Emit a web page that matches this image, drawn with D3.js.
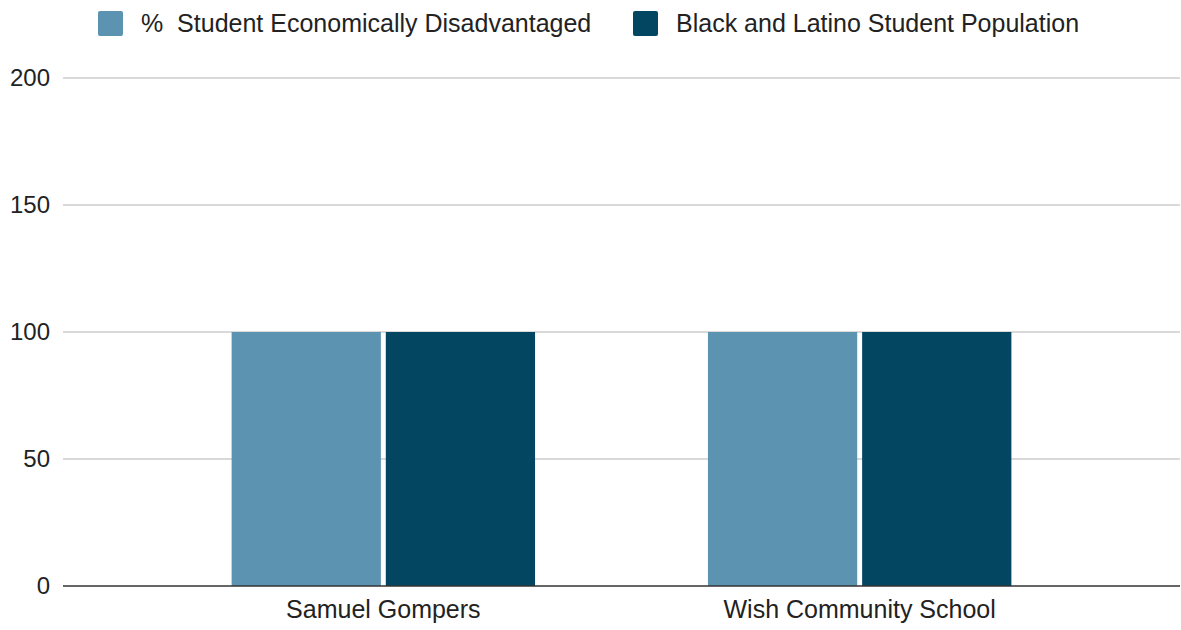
<!DOCTYPE html>
<html lang="en">
<head><title>Student demographics</title>
<style>
  body { margin: 0; background: #fff; }
  text { font-family: "Liberation Sans", Arial, sans-serif; fill: #222; }
</style>
</head>
<body>
<svg width="1181" height="630"></svg>

<script src="https://d3js.org/d3.v7.min.js"></script>
<script>
// chart values
var schools = ["Samuel Gompers", "Wish Community School"];
var seriesNames = ["%  Student Economically Disadvantaged", "Black and Latino Student Population"];
var econDisadvantaged = [100, 100];
var blackLatino = [100, 100];
var yTicks = [0, 50, 100, 150, 200];
var colors = ["#5b93b0", "#034662"];

var rows = schools.map(function(s, i) {
    return { school: s, values: [econDisadvantaged[i], blackLatino[i]] };
});

var svg = d3.select("svg"),
    plotLeft = 63, plotRight = 1180, plotTop = 78, plotBottom = 586;

var x = d3.scaleBand().domain(schools).range([plotLeft, plotRight])
    .paddingInner(0.363).paddingOuter(0.354);
var xSub = d3.scaleBand().domain([0, 1]).range([0, x.bandwidth()])
    .paddingInner(0.032);
var y = d3.scaleLinear().domain([0, 200]).range([plotBottom, plotTop]);

// gridlines
svg.append("g").selectAll("line").data(yTicks.filter(function(d) { return d > 0; }))
    .enter().append("line")
    .attr("x1", plotLeft).attr("x2", plotRight)
    .attr("y1", function(d) { return y(d); }).attr("y2", function(d) { return y(d); })
    .attr("stroke", "#cccccc").attr("stroke-width", 1.5);

// y labels
var yAxis = svg.append("g").attr("transform", "translate(" + (plotLeft - 13) + ",0)")
    .call(d3.axisLeft(y).tickValues(yTicks).tickSize(0).tickPadding(0));
yAxis.select(".domain").remove();
yAxis.selectAll("text").attr("font-size", 24).attr("font-family", null).attr("fill", "#222");

// bars
svg.append("g").selectAll("g").data(rows).enter().append("g")
    .attr("transform", function(d) { return "translate(" + x(d.school) + ",0)"; })
  .selectAll("rect").data(function(d) { return d.values; }).enter().append("rect")
    .attr("x", function(d, i) { return xSub(i); })
    .attr("y", function(d) { return y(d); })
    .attr("width", xSub.bandwidth())
    .attr("height", function(d) { return y(0) - y(d); })
    .attr("fill", function(d, i) { return colors[i]; });

// baseline
svg.append("line").attr("x1", plotLeft).attr("x2", plotRight)
    .attr("y1", y(0)).attr("y2", y(0))
    .attr("stroke", "#333").attr("stroke-width", 1.5);

// x labels
var xAxis = svg.append("g").attr("transform", "translate(0," + plotBottom + ")")
    .call(d3.axisBottom(x).tickSize(0).tickPadding(14));
xAxis.select(".domain").remove();
xAxis.selectAll("text").attr("font-size", 25).attr("font-family", null).attr("fill", "#222");

// legend
var legendX = [98, 633];
var legend = svg.append("g").selectAll("g").data(seriesNames).enter().append("g")
    .attr("transform", function(d, i) { return "translate(" + legendX[i] + ",11)"; });
legend.append("rect").attr("width", 25).attr("height", 25).attr("rx", 2)
    .attr("fill", function(d, i) { return colors[i]; });
legend.append("text").attr("x", 43).attr("y", 21).attr("font-size", 25)
    .style("white-space", "pre").attr("xml:space", "preserve")
    .text(function(d) { return d; });
</script>
</body>
</html>
